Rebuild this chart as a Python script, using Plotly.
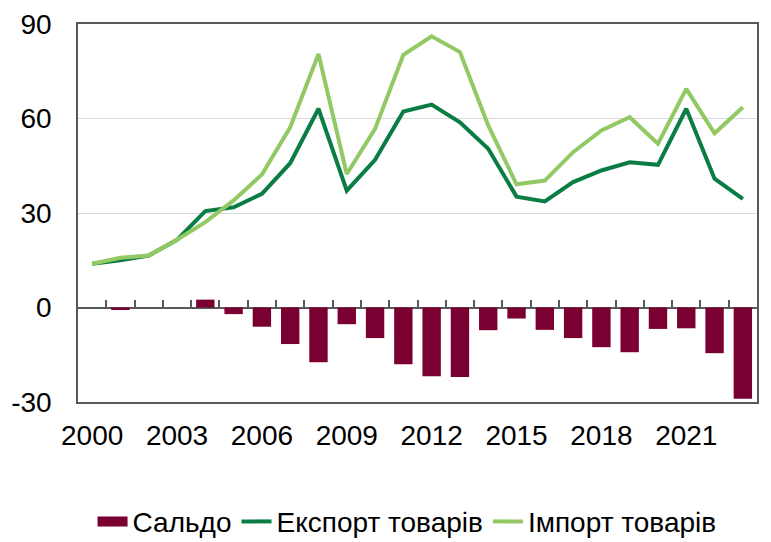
import plotly.graph_objects as go

years = list(range(2000, 2024))
export_goods = [13.9, 15.0, 16.5, 21.5, 30.6, 31.8, 36.1, 45.8, 63.1, 37.1, 46.9, 62.2,
                64.4, 58.8, 50.4, 35.2, 33.7, 39.8, 43.5, 46.1, 45.3, 63.1, 40.9, 34.5]
import_goods = [13.9, 15.8, 16.5, 21.5, 27.1, 34.0, 42.2, 57.2, 80.5, 42.4, 56.7, 80.2,
                86.1, 81.1, 57.8, 39.1, 40.3, 49.3, 56.2, 60.4, 52.0, 69.4, 55.3, 63.6]
balance = [0.0, -0.8, 0.0, 0.0, 2.5, -2.1, -6.1, -11.6, -17.4, -5.3, -9.7, -18.0,
           -21.8, -22.1, -7.2, -3.5, -7.1, -9.7, -12.6, -14.2, -6.8, -6.6, -14.5, -29.0]
x_tick_years = [2000, 2003, 2006, 2009, 2012, 2015, 2018, 2021]
y_ticks = [-30, 0, 30, 60, 90]
y_tick_text = ["-30", "0", "30", "60", "90"]

FONT = "Liberation Sans, Arial, sans-serif"
AX = "#595959"
BAR_C = "#7B0032"

fig = go.Figure()
fig.add_trace(go.Bar(x=years, y=balance, name="Сальдо", marker_color=BAR_C,
                     marker_line_width=0, width=0.65, showlegend=False,
                     legendgroup="bal"))
# legend proxy for the bar series (wide rectangle like the reference)
fig.add_trace(go.Scatter(x=[None], y=[None], name="Сальдо", mode="lines",
                         line=dict(color=BAR_C, width=14), legendgroup="bal"))
fig.add_trace(go.Scatter(x=years, y=export_goods, name="Експорт товарів", mode="lines",
                         line=dict(color="#0A7D44", width=4)))
fig.add_trace(go.Scatter(x=years, y=import_goods, name="Імпорт товарів", mode="lines",
                         line=dict(color="#93C964", width=4)))
# helper trace so the boundary tick axis is drawn
fig.add_trace(go.Scatter(x=[years[0]], y=[0], xaxis="x2", mode="markers",
                         marker=dict(opacity=0), showlegend=False, hoverinfo="skip"))

boundaries = [y + 0.5 for y in years[:-1]]
xr = [years[0] - 0.5, years[-1] + 0.5]

fig.update_layout(
    width=763, height=534,
    margin=dict(l=70, r=14, t=16, b=140, autoexpand=False),
    paper_bgcolor="white", plot_bgcolor="white",
    font=dict(family=FONT, size=28, color="black"),
    showlegend=True,
    legend=dict(orientation="h", x=0.523, xanchor="center", xref="container",
                y=0.038, yanchor="middle", yref="container",
                font=dict(size=28), itemwidth=30, tracegroupgap=0),
    xaxis=dict(range=xr, tickvals=x_tick_years, ticktext=[str(v) for v in x_tick_years],
               ticks="", showgrid=False, showline=True, mirror=True, linecolor=AX,
               linewidth=1.5, zeroline=False, ticklabelstandoff=8, automargin=False),
    xaxis2=dict(overlaying="x", anchor="free", position=0.25, range=xr,
                tickvals=boundaries, ticks="inside", ticklen=8, tickwidth=1.5,
                tickcolor=AX, showticklabels=False, showgrid=False, showline=False,
                zeroline=False, automargin=False),
    yaxis=dict(range=[-30, 90], tickvals=y_ticks, ticktext=y_tick_text, ticks="",
               showgrid=True, gridcolor="#D9D9D9", gridwidth=1.2, showline=True,
               mirror=True, linecolor=AX, linewidth=1.5, zeroline=True,
               zerolinecolor=AX, zerolinewidth=1.5, ticklabelstandoff=19,
               automargin=False),
    bargap=0.35,
)

fig.write_html("out.html")
